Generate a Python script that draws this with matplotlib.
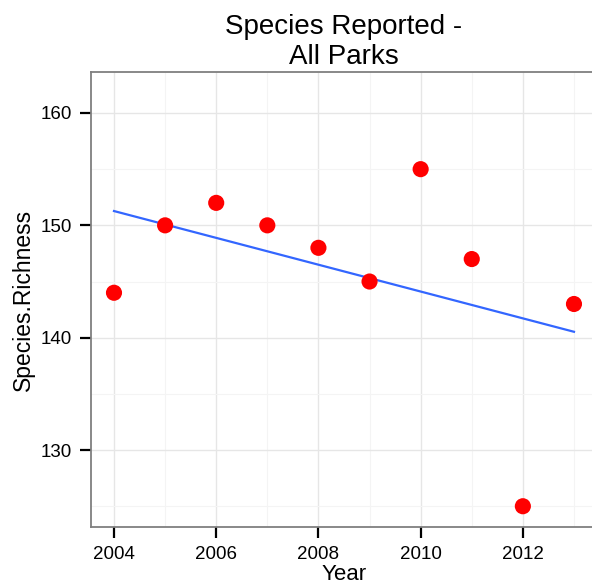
import numpy as np
import matplotlib
matplotlib.use('Agg')
import matplotlib.pyplot as plt
from matplotlib.ticker import MultipleLocator

plt.rcParams['font.family'] = ['Liberation Sans', 'DejaVu Sans']

years = [2004, 2005, 2006, 2007, 2008, 2009, 2010, 2011, 2012, 2013]
richness = [144, 150, 152, 150, 148, 145, 155, 147, 125, 143]

fig = plt.figure(figsize=(5.92, 5.88), dpi=100)
ax = fig.add_axes([0.1537, 0.1037, 0.8547, 0.7739])

# linear fit over the years
slope, intercept = np.polyfit(years, richness, 1)
fit_x = np.array([min(years), max(years)])
ax.plot(fit_x, slope * fit_x + intercept, color='#3366FF', lw=1.6, zorder=3)
ax.scatter(years, richness, s=135, color='#FF0000', edgecolors='none', zorder=4)

ax.set_xlim(2003.55, 2013.45)
ax.set_ylim(123.15, 163.65)
ax.xaxis.set_major_locator(MultipleLocator(2))
ax.xaxis.set_minor_locator(MultipleLocator(1))
ax.yaxis.set_major_locator(MultipleLocator(10))
ax.yaxis.set_minor_locator(MultipleLocator(5))

ax.grid(which='major', color='#e6e6e6', lw=1.0, zorder=0)
ax.grid(which='minor', color='#f4f4f4', lw=0.8, zorder=0)
ax.set_axisbelow(True)

for side in ['left', 'bottom', 'top', 'right']:
    ax.spines[side].set_color('#7f7f7f')
    ax.spines[side].set_linewidth(1.3)

ax.tick_params(which='major', length=8, width=1.6, color='black',
               labelsize=13.5, pad=5.5)
ax.tick_params(which='minor', length=0)

ax.set_xlabel('Year', fontsize=16, labelpad=1)
ax.set_ylabel('Species.Richness', fontsize=16.5, labelpad=4)
ax.set_title('Species Reported -\nAll Parks', fontsize=20, pad=6,
             linespacing=1.2)

fig.savefig('out.png', dpi=100)
